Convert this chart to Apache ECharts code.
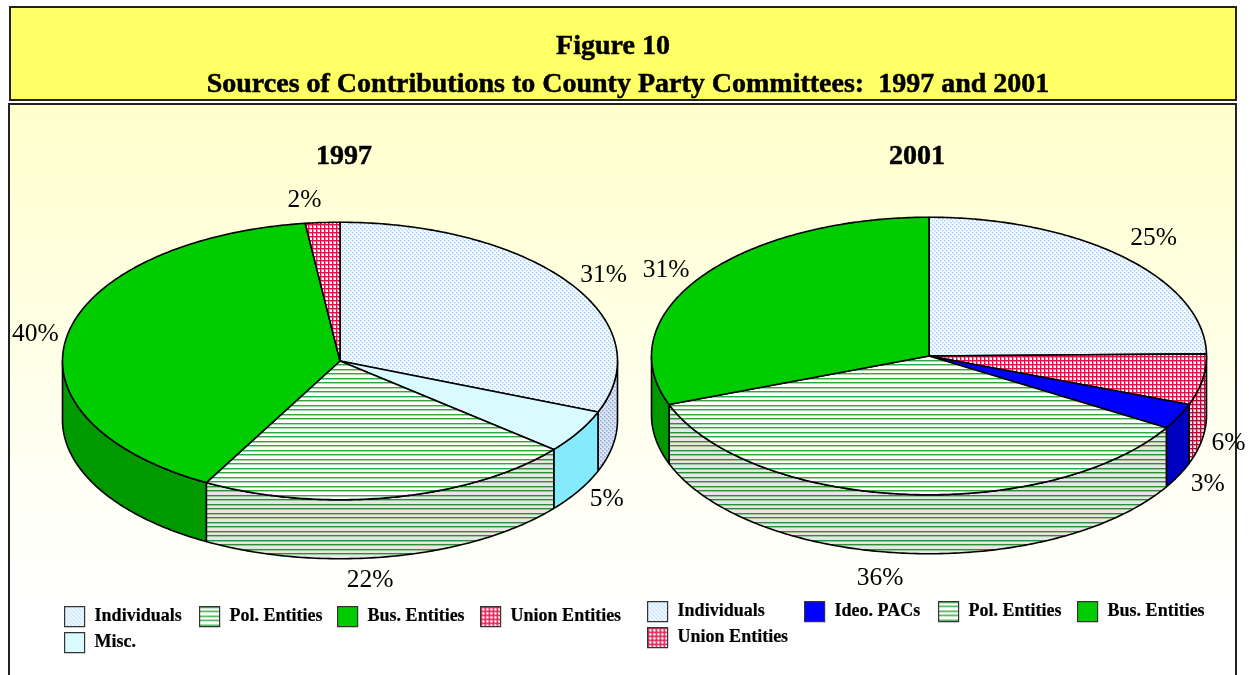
<!DOCTYPE html>
<html>
<head>
<meta charset="utf-8">
<style>
  html, body { margin: 0; padding: 0; background: #fff; }
  #main { width: 1249px; height: 675px; }
</style>
<script src="https://cdn.jsdelivr.net/npm/echarts@6/dist/echarts.min.js"></script>
</head>
<body>
<div id="main"></div>
<script>
// values, clockwise from 12 o'clock as they are drawn
var categories1997 = ['Individuals', 'Misc.', 'Pol. Entities', 'Bus. Entities', 'Union Entities'];
var values1997 = [31, 5, 22, 40, 2];
var categories2001 = ['Individuals', 'Union Entities', 'Ideo. PACs', 'Pol. Entities', 'Bus. Entities'];
var values2001 = [25, 6, 3, 36, 31]; // rounded, adds up to 101
// legend order differs from the drawing order
var legend1997 = ['Individuals', 'Pol. Entities', 'Bus. Entities', 'Union Entities', 'Misc.'];
var legend2001 = ['Individuals', 'Ideo. PACs', 'Pol. Entities', 'Bus. Entities', 'Union Entities'];

var SERIF = '"Liberation Serif", "Times New Roman", serif';
var SQUASH = 0.5;
var DEPTH = 59;

function makePattern(w, h, bg, draw) {
  var c = document.createElement('canvas');
  c.width = w;
  c.height = h;
  var ctx = c.getContext('2d');
  ctx.fillStyle = bg;
  ctx.fillRect(0, 0, w, h);
  draw(ctx);
  return { image: c, repeat: 'repeat' };
}
function dots(bg, color, soft) {
  return makePattern(4, 4, bg, function (ctx) {
    ctx.fillStyle = soft;
    ctx.fillRect(0, 0, 2, 2);
    ctx.fillRect(2, 2, 2, 2);
    ctx.fillStyle = color;
    ctx.fillRect(0, 0, 1, 1);
    ctx.fillRect(2, 2, 1, 1);
  });
}
function stripes(bg, color, soft) {
  return makePattern(9, 9, bg, function (ctx) {
    ctx.fillStyle = soft;
    ctx.fillRect(0, 1, 9, 1);
    ctx.fillRect(0, 5, 9, 1);
    ctx.fillStyle = color;
    ctx.fillRect(0, 0, 9, 1);
    ctx.fillRect(0, 4, 9, 1);
  });
}
function grid(bg, color, soft) {
  return makePattern(4, 4, bg, function (ctx) {
    ctx.fillStyle = soft;
    ctx.fillRect(0, 1, 4, 1);
    ctx.fillRect(1, 0, 1, 4);
    ctx.fillStyle = color;
    ctx.fillRect(0, 0, 4, 1);
    ctx.fillRect(0, 0, 1, 4);
  });
}

var fills = {
  'Individuals': {
    top: dots('#f8fcff', '#9ccaff', '#d8ecff'),
    wall: dots('#e0e4ee', '#7fa8ee', '#bccdee')
  },
  'Misc.': { top: '#d9fbff', wall: '#86eaff' },
  'Pol. Entities': {
    top: stripes('#ffffff', '#2fa83c', '#a4d9aa'),
    wall: stripes('#e6e6e6', '#2c8f36', '#9cc49f')
  },
  'Bus. Entities': { top: '#00cc00', wall: '#009900' },
  'Union Entities': {
    top: grid('#ffffff', '#e0104a', '#f08aa4'),
    wall: grid('#eee6e6', '#b00a3a', '#d88a9f')
  },
  'Ideo. PACs': { top: '#0000ff', wall: '#0000c0' }
};

// offsets of the % labels from the rim midpoint of their slice
var labelOffsets = {
  p1997: [[34, -8], [28, 68], [-22, 83], [-32, -1], [-18, -22]],
  p2001: [[30, -19], [26, 64], [29, 68], [-23, 84], [-35, -7]]
};

function arcPoints(api, c, from, to, drop) {
  var pts = [];
  var n = Math.max(2, Math.ceil((to - from) / 0.2));
  for (var i = 0; i <= n; i++) {
    var p = api.coord([1, from + (to - from) * i / n]);
    pts.push([p[0], c[1] + (p[1] - c[1]) * SQUASH + drop]);
  }
  return pts;
}

function sliceRenderer(total, offset, value) {
  return function (params, api) {
    var start = api.value(1);
    var end = api.value(2);
    var c = api.coord([0, 0]);
    var name = params.seriesName;
    var children = [];

    // side wall only exists on the front half of the rim
    var wFrom = Math.max(start, total / 4);
    var wTo = Math.min(end, total * 3 / 4);
    if (wTo > wFrom) {
      var front = arcPoints(api, c, wFrom, wTo, 0);
      var lower = arcPoints(api, c, wFrom, wTo, DEPTH).reverse();
      children.push({
        type: 'polygon',
        shape: { points: front.concat(lower) },
        style: { fill: fills[name].wall, stroke: '#000', lineWidth: 1.6, lineJoin: 'round' }
      });
    }

    var rim = arcPoints(api, c, start, end, 0);
    children.push({
      type: 'polygon',
      shape: { points: [[c[0], c[1]]].concat(rim) },
      style: { fill: fills[name].top, stroke: '#000', lineWidth: 1.6, lineJoin: 'round' }
    });

    var mid = arcPoints(api, c, (start + end) / 2, (start + end) / 2, 0)[0];
    children.push({
      type: 'text',
      style: {
        x: mid[0] + offset[0],
        y: mid[1] + offset[1],
        text: value + '%',
        font: '25.5px ' + SERIF,
        fill: '#000',
        align: 'center',
        verticalAlign: 'middle'
      }
    });
    return { type: 'group', children: children };
  };
}

function pieSeries(cats, vals, polarIndex, offsets) {
  var total = vals.reduce(function (a, b) { return a + b; }, 0);
  var acc = 0;
  return cats.map(function (name, i) {
    var start = acc;
    acc += vals[i];
    return {
      type: 'custom',
      name: name,
      coordinateSystem: 'polar',
      polarIndex: polarIndex,
      silent: true,
      animation: false,
      data: [[1, start, acc]],
      encode: { radius: 0, angle: [1, 2] },
      renderItem: sliceRenderer(total, offsets[i], vals[i])
    };
  });
}

function legendItem(name, left, top) {
  return {
    left: left,
    top: top,
    padding: 0,
    orient: 'horizontal',
    selectedMode: false,
    itemWidth: 20,
    itemHeight: 20,
    textStyle: {
      fontFamily: SERIF,
      fontWeight: 'bold',
      fontSize: 18,
      color: '#000',
      textBorderColor: '#000',
      textBorderWidth: 0.2,
      padding: [0, 0, 0, 5]
    },
    data: [{
      name: name,
      icon: 'rect',
      itemStyle: { color: fills[name].top, borderColor: '#333', borderWidth: 1.2 }
    }]
  };
}

function headingTitle(text, left, top) {
  return {
    text: text,
    left: left,
    top: top,
    textAlign: 'center',
    padding: 0,
    z: 5,
    textStyle: {
      fontFamily: SERIF,
      fontWeight: 'bold',
      fontSize: 28,
      color: '#000',
      textBorderColor: '#000',
      textBorderWidth: 0.5
    }
  };
}

var legendLeft1997 = [64, 199, 337, 480, 64];
var legendTop1997 = [606, 606, 606, 606, 632];
var legendLeft2001 = [647, 804, 938, 1077, 647];
var legendTop2001 = [601, 601, 601, 601, 627];

function total(vals) {
  return vals.reduce(function (a, b) { return a + b; }, 0);
}

var option = {
  animation: false,
  backgroundColor: '#fff',
  title: [
    headingTitle('Figure 10', 613, 33),
    headingTitle('Sources of Contributions to County Party Committees:  1997 and 2001', 628, 71),
    headingTitle('1997', 344, 143),
    headingTitle('2001', 917, 143)
  ],
  graphic: [
    {
      type: 'rect', z: -10,
      shape: { x: 10, y: 7, width: 1226, height: 93 },
      style: { fill: '#ffff66', stroke: '#222', lineWidth: 2 }
    },
    {
      type: 'rect', z: -10,
      shape: { x: 9, y: 104, width: 1227, height: 600 },
      style: {
        fill: {
          type: 'linear', x: 0, y: 0, x2: 0, y2: 1,
          colorStops: [
            { offset: 0, color: '#ffffcc' },
            { offset: 0.55, color: '#fffff0' },
            { offset: 0.85, color: '#ffffff' }
          ]
        },
        stroke: '#222',
        lineWidth: 2
      }
    }
  ],
  legend: legend1997.map(function (n, i) { return legendItem(n, legendLeft1997[i], legendTop1997[i]); })
    .concat(legend2001.map(function (n, i) { return legendItem(n, legendLeft2001[i], legendTop2001[i]); })),
  polar: [
    { center: [340, 361], radius: 277.5 },
    { center: [929, 356], radius: 277.5 }
  ],
  angleAxis: [
    { polarIndex: 0, type: 'value', min: 0, max: total(values1997), startAngle: 90, clockwise: true, show: false },
    { polarIndex: 1, type: 'value', min: 0, max: total(values2001), startAngle: 90, clockwise: true, show: false }
  ],
  radiusAxis: [
    { polarIndex: 0, type: 'value', min: 0, max: 1, show: false },
    { polarIndex: 1, type: 'value', min: 0, max: 1, show: false }
  ],
  series: pieSeries(categories1997, values1997, 0, labelOffsets.p1997)
    .concat(pieSeries(categories2001, values2001, 1, labelOffsets.p2001))
};

var myChart = echarts.init(document.getElementById('main'), null, { renderer: 'canvas' });
myChart.setOption(option);
</script>
</body>
</html>
